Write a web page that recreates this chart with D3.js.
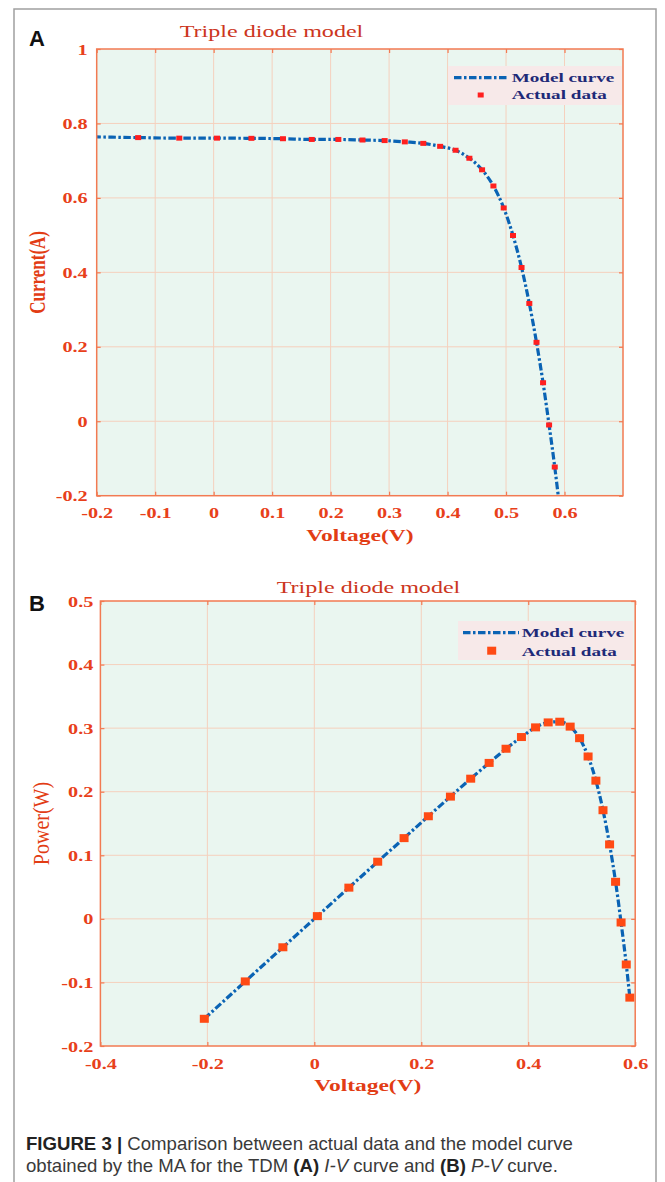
<!DOCTYPE html>
<html><head><meta charset="utf-8">
<script src="https://cdn.jsdelivr.net/npm/d3@7"></script>
<style>body{margin:0;background:#fff} svg{display:block}</style>
</head><body><svg id="c" width="665" height="1182"></svg>
<script>
// ---- data ----
const voltage = [-0.2057,-0.1291,-0.0588,0.0057,0.0646,0.1185,0.1678,0.2132,0.2545,0.2924,0.3269,0.3585,0.3873,0.4137,0.4373,0.4590,0.4784,0.4960,0.5119,0.5265,0.5398,0.5521,0.5633,0.5736,0.5833,0.5900];
const current = [0.7640,0.7620,0.7605,0.7605,0.7600,0.7590,0.7570,0.7570,0.7555,0.7540,0.7505,0.7465,0.7385,0.7280,0.7065,0.6755,0.6320,0.5730,0.4990,0.4130,0.3165,0.2120,0.1035,-0.0100,-0.1230,-0.2100];
const power = [-0.1572,-0.0984,-0.0447,0.0043,0.0491,0.0899,0.1270,0.1614,0.1923,0.2205,0.2453,0.2676,0.2860,0.3012,0.3090,0.3101,0.3024,0.2842,0.2554,0.2174,0.1709,0.1171,0.0583,-0.0057,-0.0718,-0.1239];
const ivXTicks = [-0.2,-0.1,0,0.1,0.2,0.3,0.4,0.5,0.6];
const ivYTicks = [-0.2,0,0.2,0.4,0.6,0.8,1];
const pvXTicks = [-0.4,-0.2,0,0.2,0.4,0.6];
const pvYTicks = [-0.2,-0.1,0,0.1,0.2,0.3,0.4,0.5];
const legendLabels = ["Model curve","Actual data"];
const panelTitle = "Triple diode model";

const svg = d3.select("#c");
svg.append("rect").attr("width",665).attr("height",1182).attr("fill","#fff");
svg.append("path").attr("d","M14,1182V9H656V1182").attr("fill","none").attr("stroke","#a0a0a0").attr("stroke-width",1.5);

const SERIF = "'Liberation Serif','Times New Roman',serif";
const TICKC = "#e8401a";
const fmt = d => d === 0 ? "0" : (d === 1 ? "1" : d.toFixed(1));

function drawPanel(p){
  const x = d3.scaleLinear().domain(p.xDomain).range([p.left,p.right]);
  const y = d3.scaleLinear().domain(p.yDomain).range([p.bottom,p.top]);
  const W = p.right-p.left, H = p.bottom-p.top;
  const g = svg.append("g");
  svg.append("clipPath").attr("id","clip"+p.id).append("rect")
    .attr("x",p.left).attr("y",p.top).attr("width",W).attr("height",H);
  g.append("rect").attr("x",p.left).attr("y",p.top).attr("width",W).attr("height",H).attr("fill","#eaf6f0");
  // grid
  g.selectAll(null).data(p.xGrid).join("line")
    .attr("x1",d=>x(d)).attr("x2",d=>x(d)).attr("y1",p.top).attr("y2",p.bottom)
    .attr("stroke","#f5d0bd").attr("stroke-width",1);
  g.selectAll(null).data(p.yTicks.filter(d=>d>p.yDomain[0]&&d<p.yDomain[1])).join("line")
    .attr("x1",p.left).attr("x2",p.right).attr("y1",d=>y(d)).attr("y2",d=>y(d))
    .attr("stroke","#f5d0bd").attr("stroke-width",1);
  // axes
  const styleTicks = sel => { sel.select(".domain").remove(); sel.selectAll("line").attr("stroke","#f27a52").attr("stroke-width",1.2); };
  const gb = g.append("g").attr("transform",`translate(0,${p.bottom})`)
    .call(d3.axisBottom(x).tickValues(p.xTicks).tickFormat(fmt).tickSizeInner(-4).tickSizeOuter(0));
  styleTicks(gb);
  gb.selectAll("text").attr("y",0).attr("dy",0)
    .attr("transform",`translate(0,${p.xLabOff}) scale(1.35,1)`)
    .attr("font-family",SERIF).attr("font-weight","bold").attr("font-size",15).attr("fill",TICKC);
  const gt = g.append("g").attr("transform",`translate(0,${p.top})`)
    .call(d3.axisTop(x).tickValues(p.xTicks).tickFormat("").tickSizeInner(-4).tickSizeOuter(0));
  styleTicks(gt);
  const gl = g.append("g").attr("transform",`translate(${p.left},0)`)
    .call(d3.axisLeft(y).tickValues(p.yTicks).tickFormat(fmt).tickSizeInner(-4).tickSizeOuter(0));
  styleTicks(gl);
  gl.selectAll("text").attr("x",0).attr("dy",0)
    .attr("transform",`translate(${-p.yLabOff},5) scale(1.35,1)`)
    .attr("font-family",SERIF).attr("font-weight","bold").attr("font-size",15).attr("fill",TICKC);
  const gr = g.append("g").attr("transform",`translate(${p.right},0)`)
    .call(d3.axisRight(y).tickValues(p.yTicks).tickFormat("").tickSizeInner(-4).tickSizeOuter(0));
  styleTicks(gr);
  // curve
  const pts = voltage.map((v,i)=>[v,p.ys[i]]);
  g.append("path").datum(pts).attr("clip-path",`url(#clip${p.id})`)
    .attr("d",d3.line().x(d=>x(d[0])).y(d=>y(d[1])).curve(d3.curveMonotoneX))
    .attr("fill","none").attr("stroke","#0a63b4").attr("stroke-width",3.2)
    .attr("stroke-dasharray","7.5,2.5,2.5,2.5");
  g.append("g").attr("clip-path",`url(#clip${p.id})`).selectAll("rect").data(pts).join("rect")
    .attr("x",d=>x(d[0])-p.mw/2).attr("y",d=>y(d[1])-p.mh/2).attr("width",p.mw).attr("height",p.mh)
    .attr("fill",p.mc);
  // border
  g.append("rect").attr("x",p.left).attr("y",p.top).attr("width",W).attr("height",H)
    .attr("fill","none").attr("stroke","#f27a52").attr("stroke-width",1.5);
  // legend
  const L = p.legend;
  const lg = g.append("g");
  lg.append("rect").attr("x",L.x0).attr("y",L.y0).attr("width",L.x1-L.x0).attr("height",L.y1-L.y0).attr("fill","#f7e9e9");
  lg.append("line").attr("x1",L.lx0).attr("x2",L.lx1).attr("y1",L.ly).attr("y2",L.ly)
    .attr("stroke","#0a63b4").attr("stroke-width",3.2).attr("stroke-dasharray","7.5,2.5,2.5,2.5");
  lg.append("rect").attr("x",L.mx-p.mw/2).attr("y",L.my-p.mh/2).attr("width",p.mw).attr("height",p.mh).attr("fill",p.mc);
  lg.selectAll("text").data(legendLabels).join("text")
    .attr("transform",(d,i)=>`translate(${L.tx},${L.tb[i]}) scale(1.42,1)`)
    .attr("font-family",SERIF).attr("font-weight","bold").attr("font-size",13.5).attr("fill","#1e2a78")
    .text(d=>d);
  // title
  g.append("text").attr("transform",`translate(${p.titleX},${p.titleY}) scale(1.46,1)`)
    .attr("text-anchor","middle").attr("font-family",SERIF).attr("font-size",16.5).attr("fill","#cc3520")
    .text(panelTitle);
  // axis titles
  g.append("text").attr("transform",`translate(${(p.left+p.right)/2},${p.bottom+45}) scale(1.38,1)`)
    .attr("text-anchor","middle").attr("font-family",SERIF).attr("font-weight","bold").attr("font-size",17).attr("fill","#e23c14")
    .text("Voltage(V)");
  g.append("text").attr("transform",`translate(${p.yTitleX},${(p.top+p.bottom)/2}) scale(${p.yTitleSx},1) rotate(-90)`)
    .attr("text-anchor","middle").attr("dy","0.33em").attr("font-family",SERIF)
    .attr("font-weight",p.yTitleWeight).attr("font-size",p.yTitleSize).attr("fill","#e23c14")
    .text(p.yTitle);
  // panel letter
  g.append("text").attr("x",29).attr("y",p.letterY).attr("font-family","'Liberation Sans',Arial,sans-serif")
    .attr("font-weight","bold").attr("font-size",22).attr("fill","#111").text(p.letter);
}

drawPanel({id:"A", left:96.7, right:623, top:49, bottom:495.7,
  xDomain:[-0.2,0.7], yDomain:[-0.2,1], xTicks:ivXTicks, yTicks:ivYTicks,
  xGrid:[-0.1,0,0.1,0.2,0.3,0.4,0.5,0.6], ys:current, xLabOff:22, yLabOff:9,
  mw:6, mh:5, mc:"#ff1f1f",
  legend:{x0:448,x1:621.7,y0:66,y1:105,lx0:454,lx1:508,ly:77.7,mx:480.7,my:95,tx:511.7,tb:[81.7,99.3]},
  titleX:271.5, titleY:37.3, yTitle:"Current(A)", yTitleX:37.7, yTitleSx:1.35, yTitleWeight:"bold", yTitleSize:17,
  letter:"A", letterY:46});

drawPanel({id:"B", left:100.4, right:635.2, top:601, bottom:1046,
  xDomain:[-0.4,0.6], yDomain:[-0.2,0.5], xTicks:pvXTicks, yTicks:pvYTicks,
  xGrid:[-0.2,0,0.2,0.4], ys:power, xLabOff:23, yLabOff:7,
  mw:9, mh:8, mc:"#ff4a14",
  legend:{x0:458,x1:633,y0:621,y1:660,lx0:463,lx1:519,ly:632.7,mx:491.7,my:650.7,tx:521.7,tb:[636.7,655.5]},
  titleX:368.5, titleY:593.3, yTitle:"Power(W)", yTitleX:41.5, yTitleSx:1.2, yTitleWeight:"normal", yTitleSize:20,
  letter:"B", letterY:611});

// caption
const cap = svg.append("g").attr("font-family","'Liberation Sans',Arial,sans-serif").attr("font-size",18.6).attr("fill","#3a3a3a");
const t1 = cap.append("text").attr("x",26).attr("y",1150);
t1.append("tspan").attr("font-weight","bold").attr("fill","#222").text("FIGURE 3 | ");
t1.append("tspan").text("Comparison between actual data and the model curve");
const t2 = cap.append("text").attr("x",26).attr("y",1171.5);
t2.append("tspan").text("obtained by the MA for the TDM ");
t2.append("tspan").attr("font-weight","bold").attr("fill","#222").text("(A)");
t2.append("tspan").text(" ");
t2.append("tspan").attr("font-style","italic").text("I-V");
t2.append("tspan").text(" curve and ");
t2.append("tspan").attr("font-weight","bold").attr("fill","#222").text("(B)");
t2.append("tspan").text(" ");
t2.append("tspan").attr("font-style","italic").text("P-V");
t2.append("tspan").text(" curve.");
</script></body></html>
